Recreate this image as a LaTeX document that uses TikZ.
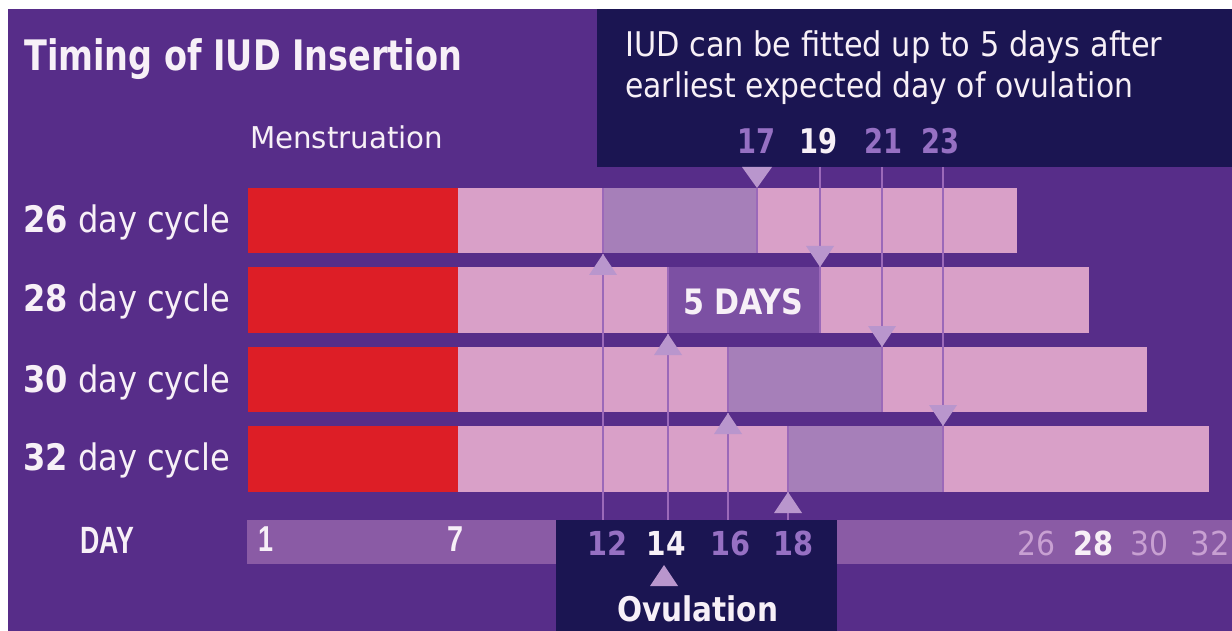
\documentclass[tikz,border=0pt]{standalone}
\usepackage{fontspec}
\usepackage{graphicx}
\setmainfont{DejaVu Sans Condensed}
\newfontfamily\dayfont{Liberation Sans}
\definecolor{bgc}{RGB}{87,45,137}
\definecolor{navyc}{RGB}{27,21,82}
\definecolor{redc}{RGB}{221,30,38}
\definecolor{pinkc}{RGB}{217,160,200}
\definecolor{mutedc}{RGB}{166,127,185}
\definecolor{fivec}{RGB}{124,80,163}
\definecolor{dayc}{RGB}{138,91,165}
\definecolor{tric}{RGB}{185,150,205}
\definecolor{linec}{RGB}{155,105,185}
\definecolor{lavc}{RGB}{150,112,195}
\definecolor{lpinkc}{RGB}{200,160,210}
\definecolor{whitec}{RGB}{247,240,247}
\newcommand{\fitw}[2]{\resizebox{#1pt}{\height}{#2}}
\newcommand{\topnum}{\bfseries\fontsize{34}{34}\selectfont}
\newcommand{\botnum}{\bfseries\fontsize{33}{33}\selectfont}
\newcommand{\botnumr}{\fontsize{33}{33}\selectfont}
\begin{document}
\begin{tikzpicture}[x=1pt,y=-1pt,
  txt/.style={inner sep=0pt, text=whitec},
  vline/.style={draw=linec, line width=2pt},
  segedge/.style={draw=linec, line width=1.2pt},
  tri/.style={fill=tric}]
\useasboundingbox (0,0) rectangle (1232,631);
\fill[white] (0,0) rectangle (1232,631);
\fill[bgc] (8,9) rectangle (1232,631);
% boxes
\fill[navyc] (597,9) rectangle (1232,167);
\fill[dayc] (247,520) rectangle (1232,564);
\fill[navyc] (556,520) rectangle (837,631);
% bars
\fill[redc] (248,188) rectangle (458,253);
\fill[pinkc] (458,188) rectangle (1017,253);
\fill[mutedc] (603,188) rectangle (757,253);
\fill[redc] (248,267) rectangle (458,333);
\fill[pinkc] (458,267) rectangle (1089,333);
\fill[fivec] (668,267) rectangle (820,333);
\fill[redc] (248,347) rectangle (458,412);
\fill[pinkc] (458,347) rectangle (1147,412);
\fill[mutedc] (728,347) rectangle (882,412);
\fill[redc] (248,426) rectangle (458,492);
\fill[pinkc] (458,426) rectangle (1209,492);
\fill[mutedc] (788,426) rectangle (943,492);
% segment edges
\draw[segedge] (603,188) -- (603,253);
\draw[segedge] (668,267) -- (668,333);
\draw[segedge] (820,267) -- (820,333);
\draw[segedge] (728,347) -- (728,412);
\draw[segedge] (882,347) -- (882,412);
\draw[segedge] (788,426) -- (788,492);
\draw[segedge] (943,426) -- (943,492);
% coordinates
\coordinate (a12) at (603,254); \coordinate (e12) at (603,520);
\coordinate (a14) at (668,334); \coordinate (e14) at (668,520);
\coordinate (a16) at (728,413); \coordinate (e16) at (728,520);
\coordinate (a18) at (788,492); \coordinate (e18) at (788,520);
\coordinate (s17) at (757,167); \coordinate (a17) at (757,188); \coordinate (e17) at (757,253);
\coordinate (s19) at (820,167); \coordinate (a19) at (820,267);
\coordinate (s21) at (882,167); \coordinate (a21) at (882,347);
\coordinate (s23) at (943,167); \coordinate (a23) at (943,426);
\coordinate (aov) at (664,565);
% lines
\draw[vline] (a12) -- (e12);
\draw[vline] (a14) -- (e14);
\draw[vline] (a16) -- (e16);
\draw[vline] (a18) -- (e18);
\draw[vline] (a17) -- (e17);
\draw[vline] (s19) -- (a19);
\draw[vline] (s21) -- (a21);
\draw[vline] (s23) -- (a23);
% triangles
\fill[tri] (a12) -- ++(14,21) -- ++(-28,0) -- cycle;
\fill[tri] (a14) -- ++(14,21) -- ++(-28,0) -- cycle;
\fill[tri] (a16) -- ++(14,21) -- ++(-28,0) -- cycle;
\fill[tri] (a18) -- ++(14,21) -- ++(-28,0) -- cycle;
\fill[tri] (aov) -- ++(14,21) -- ++(-28,0) -- cycle;
\fill[tri] (a17) -- ++(15,-21) -- ++(-30,0) -- cycle;
\fill[tri] (a19) -- ++(14,-21) -- ++(-28,0) -- cycle;
\fill[tri] (a21) -- ++(14,-21) -- ++(-28,0) -- cycle;
\fill[tri] (a23) -- ++(14,-21) -- ++(-28,0) -- cycle;
% texts
\node[txt, anchor=base west] (title) at (24,71) {\fitw{438}{\fontsize{42}{42}\selectfont\bfseries Timing of IUD Insertion}};
\node[txt, anchor=base west] (mens) at (250,149) {\fitw{193}{\fontsize{30}{30}\selectfont Menstruation}};
\node[txt, anchor=base west] (info1) at (625,57) {\fitw{537}{\fontsize{34}{34}\selectfont IUD can be fitted up to 5 days after}};
\node[txt, anchor=base west] (info2) at (625,98) {\fitw{508}{\fontsize{34}{34}\selectfont earliest expected day of ovulation}};
\node[txt, anchor=base west] (c26) at (23,233) {\fitw{207}{\fontsize{36.5}{37}\selectfont\textbf{26} day cycle}};
\node[txt, anchor=base west] (c28) at (23,312) {\fitw{207}{\fontsize{36.5}{37}\selectfont\textbf{28} day cycle}};
\node[txt, anchor=base west] (c30) at (23,392) {\fitw{207}{\fontsize{36.5}{37}\selectfont\textbf{30} day cycle}};
\node[txt, anchor=base west] (c32) at (23,470) {\fitw{207}{\fontsize{36.5}{37}\selectfont\textbf{32} day cycle}};
\node[txt, anchor=base west] (five) at (683,314) {\fitw{120}{\fontsize{35}{35}\selectfont\bfseries 5 DAYS}};
\node[txt, anchor=base, text=lavc] (n17) at (756,154) {\fitw{38}{\topnum 17}};
\node[txt, anchor=base] (n19) at (818,154) {\fitw{38}{\topnum 19}};
\node[txt, anchor=base, text=lavc] (n21) at (883,154) {\fitw{38}{\topnum 21}};
\node[txt, anchor=base, text=lavc] (n23) at (940,154) {\fitw{38}{\topnum 23}};
\node[txt, anchor=base west] (day) at (80,553) {\fitw{54}{\dayfont\bfseries\fontsize{38}{38}\selectfont DAY}};
\node[txt, anchor=base west] (d1) at (258,551) {\fitw{15}{\dayfont\bfseries\fontsize{36}{36}\selectfont 1}};
\node[txt, anchor=base west] (d7) at (447,551) {\fitw{16}{\dayfont\bfseries\fontsize{36}{36}\selectfont 7}};
\node[txt, anchor=base, text=lavc] (d12) at (607,555) {\fitw{40}{\botnum 12}};
\node[txt, anchor=base] (d14) at (666,555) {\fitw{39}{\botnum 14}};
\node[txt, anchor=base, text=lavc] (d16) at (730,555) {\fitw{40}{\botnum 16}};
\node[txt, anchor=base, text=lavc] (d18) at (793,555) {\fitw{40}{\botnum 18}};
\node[txt, anchor=base, text=lpinkc] (d26) at (1036,555) {\fitw{38}{\botnumr 26}};
\node[txt, anchor=base] (d28) at (1093,555) {\fitw{40}{\botnum 28}};
\node[txt, anchor=base, text=lpinkc] (d30) at (1149,555) {\fitw{38}{\botnumr 30}};
\node[txt, anchor=base, text=lpinkc] (d32) at (1210,555) {\fitw{39}{\botnumr 32}};
\node[txt, anchor=base west] (ovu) at (617,621) {\fitw{161}{\fontsize{34}{34}\selectfont\bfseries Ovulation}};
\end{tikzpicture}
\end{document}
